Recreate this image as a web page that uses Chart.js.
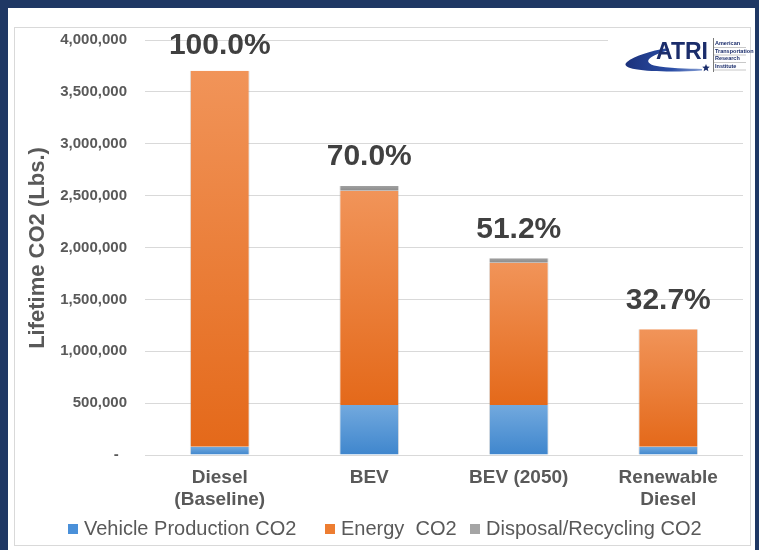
<!DOCTYPE html>
<html>
<head>
<meta charset="utf-8">
<script src="https://cdn.jsdelivr.net/npm/chart.js@4/dist/chart.umd.min.js"></script>
<style>
  html, body { margin: 0; padding: 0; background: #1f3864; }
  #wrap { width: 759px; height: 550px; position: relative; }
</style>
</head>
<body>
<div id="wrap"><canvas id="c" width="759" height="550"></canvas></div>
<script>
// ---- data ----
const categories = [["Diesel", "(Baseline)"], "BEV", "BEV (2050)", ["Renewable", "Diesel"]];
const seriesNames = ["Vehicle Production CO2", "Energy  CO2", "Disposal/Recycling CO2"];
const vehicleProduction = [80000, 482000, 482000, 80000];
const energy = [3624000, 2065000, 1371000, 1131000];
const disposal = [0, 46000, 43000, 0];
const percentLabels = ["100.0%", "70.0%", "51.2%", "32.7%"];
const yTicks = { min: 0, max: 4000000, step: 500000 };
const yTitle = "Lifetime CO2 (Lbs.)";
const logoText = "ATRI";
const logoSub = ["American", "Transportation", "Research", "Institute"];

const FONT = "'Liberation Sans', Arial, sans-serif";
const GRAY = "#595959";

function gradFill(top, bot) {
  return function (ctx) {
    const chart = ctx.chart;
    const ys = chart.scales && chart.scales.y;
    if (!chart.chartArea || !ys || ctx.dataIndex === undefined) return top;
    const ds = chart.data.datasets;
    const di = ctx.datasetIndex, i = ctx.dataIndex;
    let base = 0;
    for (let k = 0; k < di; k++) base += ds[k].data[i];
    const v = ds[di].data[i];
    const y1 = ys.getPixelForValue(base + v), y0 = ys.getPixelForValue(base);
    if (!isFinite(y1) || !isFinite(y0) || y0 === y1) return top;
    const g = chart.ctx.createLinearGradient(0, y1, 0, y0);
    g.addColorStop(0, top);
    g.addColorStop(1, bot);
    return g;
  };
}

const legendSolid = ["#4a90d9", "#ed7d31", "#a5a5a5"];

const bgPlugin = {
  id: "bg",
  beforeDraw(chart) {
    const c = chart.ctx;
    c.save();
    c.fillStyle = "#1f3864";
    c.fillRect(0, 0, chart.width, chart.height);
    c.fillStyle = "#ffffff";
    c.fillRect(8, 8, 747, 542);
    c.strokeStyle = "#d9d9d9";
    c.lineWidth = 1;
    c.strokeRect(14.5, 27.5, 736, 518);
    c.restore();
  }
};

const overlayPlugin = {
  id: "overlay",
  afterDatasetsDraw(chart) {
    const c = chart.ctx;
    const last = chart.getDatasetMeta(chart.data.datasets.length - 1);
    c.save();
    c.font = "bold 30px " + FONT;
    c.fillStyle = "#404040";
    c.textAlign = "center";
    c.textBaseline = "middle";
    last.data.forEach((el, i) => {
      const y = Math.max(el.y - 29, 46);
      c.fillText(percentLabels[i], el.x, y);
    });
    c.restore();
  },
  afterDraw(chart) {
    const c = chart.ctx;
    c.save();
    c.translate(38, 248);
    c.rotate(-Math.PI / 2);
    c.font = "bold 22px " + FONT;
    c.fillStyle = GRAY;
    c.textAlign = "center";
    c.textBaseline = "middle";
    c.fillText(yTitle, 0, 0);
    c.restore();

    // legend
    c.save();
    c.font = "20px " + FONT;
    c.textBaseline = "middle";
    c.textAlign = "left";
    const lx = [68, 325, 470];
    chart.data.datasets.forEach((ds, k) => {
      c.fillStyle = legendSolid[k];
      c.fillRect(lx[k], 524, 10, 10);
      c.fillStyle = GRAY;
      c.fillText(ds.label, lx[k] + 16, 529);
    });
    c.restore();

    // logo
    c.save();
    c.fillStyle = "#ffffff";
    c.fillRect(608, 33, 138, 41);
    const g = c.createLinearGradient(622, 0, 705, 0);
    g.addColorStop(0, "#1a2f78");
    g.addColorStop(0.6, "#2b4ea6");
    g.addColorStop(1, "#8fa6d8");
    c.fillStyle = g;
    c.beginPath();
    c.moveTo(702, 70.5);
    c.bezierCurveTo(665, 73, 616, 71, 627, 62);
    c.bezierCurveTo(634, 56, 650, 51, 668, 48);
    c.lineTo(669, 50);
    c.bezierCurveTo(652, 55, 641, 61, 654, 65.5);
    c.bezierCurveTo(668, 68.5, 688, 68.5, 702, 69);
    c.closePath();
    c.fill();
    c.font = "bold 23px " + FONT;
    c.fillStyle = "#1b2d6b";
    c.textAlign = "left";
    c.textBaseline = "alphabetic";
    c.fillText(logoText, 656, 59);
    // star
    c.beginPath();
    for (let k = 0; k < 10; k++) {
      const r = k % 2 === 0 ? 4 : 1.8;
      const a = -Math.PI / 2 + k * Math.PI / 5;
      const px = 706 + r * Math.cos(a), py = 68 + r * Math.sin(a);
      if (k === 0) c.moveTo(px, py); else c.lineTo(px, py);
    }
    c.closePath();
    c.fill();
    c.strokeStyle = "#7a7a7a";
    c.lineWidth = 1;
    c.beginPath();
    c.moveTo(713.5, 38); c.lineTo(713.5, 72); c.stroke();
    c.font = "bold 5.5px " + FONT;
    c.fillStyle = "#1b2d6b";
    logoSub.forEach((t, k) => {
      const by = 45 + k * 7.5;
      c.fillText(t, 715, by);
      c.strokeStyle = "#c8c8c8";
      c.beginPath();
      c.moveTo(714, by + 2.5); c.lineTo(746, by + 2.5); c.stroke();
    });
    c.restore();
  }
};

const border = { left: 1, right: 1, top: 0, bottom: 0 };
new Chart(document.getElementById("c"), {
  type: "bar",
  data: {
    labels: categories,
    datasets: [
      { label: seriesNames[0], data: vehicleProduction, backgroundColor: gradFill("#72a9de", "#3f86cd"),
        borderColor: "rgba(160,160,160,0.35)", borderWidth: border },
      { label: seriesNames[1], data: energy, backgroundColor: gradFill("#f19459", "#e4691a"),
        borderColor: "rgba(160,160,160,0.35)", borderWidth: border },
      { label: seriesNames[2], data: disposal, backgroundColor: gradFill("#a0a0a0", "#8c8c8c"),
        borderColor: "rgba(160,160,160,0.35)", borderWidth: border }
    ]
  },
  options: {
    responsive: false,
    animation: false,
    devicePixelRatio: 1,
    layout: { padding: { top: 40, right: 16, bottom: 35, left: 0 } },
    datasets: { bar: { categoryPercentage: 1.0, barPercentage: 0.4 } },
    plugins: { legend: { display: false }, tooltip: { enabled: false } },
    scales: {
      x: {
        stacked: true,
        grid: { display: false, drawTicks: false },
        border: { display: false },
        ticks: { color: GRAY, font: { family: FONT, size: 19, weight: "bold", lineHeight: 1.15 }, padding: 12, maxRotation: 0, autoSkip: false },
        afterFit(s) { s.height = 60; }
      },
      y: {
        stacked: true,
        min: yTicks.min, max: yTicks.max,
        grid: { color: "#d9d9d9", lineWidth: 1, drawTicks: false },
        border: { display: false },
        ticks: {
          stepSize: yTicks.step,
          color: GRAY,
          padding: 18,
          font: { family: FONT, size: 15, weight: "bold" },
          callback: (v) => v === 0 ? "-  " : Number(v).toLocaleString("en-US")
        },
        afterFit(s) { s.width = 145; }
      }
    }
  },
  plugins: [bgPlugin, overlayPlugin]
});
</script>
</body>
</html>
